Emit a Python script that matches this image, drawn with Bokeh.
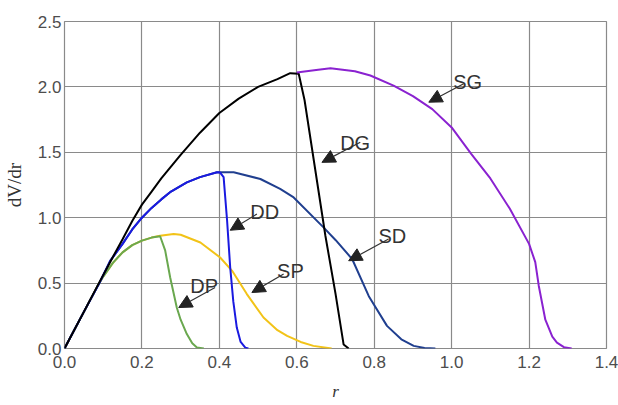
from bokeh.plotting import figure
from bokeh.models import Range1d, Label, Arrow, NormalHead, FixedTicker, PrintfTickFormatter
from bokeh.embed import file_html
from bokeh.resources import INLINE

# ---------------- data ----------------
x_ticks = [0.0, 0.2, 0.4, 0.6, 0.8, 1.0, 1.2, 1.4]
y_ticks = [0.0, 0.5, 1.0, 1.5, 2.0, 2.5]

dg_x = [0.0, 0.05, 0.092, 0.125, 0.15, 0.175, 0.20, 0.225, 0.25, 0.275, 0.30, 0.35, 0.40, 0.45, 0.50, 0.55, 0.583, 0.605, 0.62, 0.674, 0.70, 0.721, 0.734]
dg_y = [0.0, 0.28, 0.517, 0.70, 0.835, 0.975, 1.10, 1.20, 1.30, 1.39, 1.48, 1.65, 1.80, 1.91, 2.00, 2.06, 2.105, 2.10, 1.90, 0.86, 0.42, 0.03, 0.0]

sg_x = [0.60, 0.65, 0.687, 0.75, 0.79, 0.85, 0.90, 0.95, 1.00, 1.05, 1.10, 1.15, 1.20, 1.216, 1.225, 1.242, 1.26, 1.272, 1.29, 1.31]
sg_y = [2.11, 2.13, 2.143, 2.12, 2.087, 2.01, 1.93, 1.83, 1.69, 1.49, 1.30, 1.07, 0.80, 0.66, 0.48, 0.22, 0.09, 0.045, 0.01, 0.0]

sd_x = [0.0, 0.05, 0.09, 0.118, 0.15, 0.175, 0.20, 0.225, 0.25, 0.275, 0.316, 0.35, 0.394, 0.437, 0.506, 0.557, 0.592, 0.669, 0.70, 0.743, 0.786, 0.833, 0.87, 0.902, 0.93, 0.958]
sd_y = [0.0, 0.28, 0.50, 0.67, 0.80, 0.91, 1.00, 1.075, 1.14, 1.20, 1.27, 1.31, 1.347, 1.347, 1.296, 1.22, 1.155, 0.926, 0.83, 0.684, 0.40, 0.173, 0.07, 0.02, 0.004, 0.0]

dd_x = [0.0, 0.05, 0.09, 0.118, 0.15, 0.175, 0.20, 0.225, 0.25, 0.275, 0.316, 0.35, 0.394, 0.402, 0.411, 0.42, 0.428, 0.436, 0.445, 0.455, 0.467, 0.475]
dd_y = [0.0, 0.28, 0.50, 0.67, 0.80, 0.91, 1.00, 1.075, 1.14, 1.20, 1.27, 1.31, 1.347, 1.345, 1.31, 0.977, 0.62, 0.36, 0.16, 0.05, 0.007, 0.0]

dp_x = [0.0, 0.05, 0.085, 0.10, 0.125, 0.15, 0.175, 0.20, 0.225, 0.247, 0.26, 0.273, 0.29, 0.30, 0.316, 0.33, 0.342, 0.36]
dp_y = [0.0, 0.28, 0.475, 0.55, 0.655, 0.735, 0.79, 0.825, 0.848, 0.858, 0.75, 0.543, 0.313, 0.22, 0.11, 0.04, 0.007, 0.0]

sp_x = [0.0, 0.05, 0.085, 0.10, 0.125, 0.15, 0.175, 0.20, 0.225, 0.247, 0.282, 0.30, 0.351, 0.402, 0.433, 0.471, 0.514, 0.55, 0.575, 0.61, 0.643, 0.69]
sp_y = [0.0, 0.28, 0.475, 0.55, 0.655, 0.735, 0.79, 0.825, 0.848, 0.862, 0.875, 0.87, 0.81, 0.696, 0.594, 0.416, 0.237, 0.14, 0.096, 0.05, 0.02, 0.0]

# curve annotations: label text, label anchor (data), arrow tail, arrow head
notes = [
    ("SG", 1.004, 2.034, 1.031, 2.024, 0.941, 1.883),
    ("DG", 0.712, 1.574, 0.764, 1.577, 0.665, 1.423),
    ("DD", 0.480, 1.041, 0.497, 1.028, 0.428, 0.904),
    ("SD", 0.811, 0.862, 0.837, 0.837, 0.734, 0.671),
    ("SP", 0.549, 0.594, 0.566, 0.569, 0.484, 0.428),
    ("DP", 0.325, 0.479, 0.389, 0.466, 0.295, 0.313),
]

# ---------------- figure ----------------
p = figure(width=618, height=405, output_backend="svg", toolbar_location=None,
           x_range=Range1d(0, 1.4), y_range=Range1d(0, 2.5),
           min_border_left=64, min_border_right=12, min_border_top=21, min_border_bottom=57)
p.background_fill_color = "white"
p.border_fill_color = "white"
p.outline_line_color = "#8a8a8a"
p.outline_line_width = 1.2

for ax in (p.xaxis, p.yaxis):
    ax.axis_line_color = None
    ax.major_tick_line_color = None
    ax.minor_tick_line_color = None
    ax.major_tick_out = 0
    ax.major_tick_in = 0
    ax.minor_tick_out = 0
    ax.minor_tick_in = 0
    ax.major_label_text_font = "Liberation Sans"
    ax.major_label_text_font_size = "17px"
    ax.major_label_text_color = "#4d4d4d"
    ax.formatter = PrintfTickFormatter(format="%.1f")
    ax.axis_label_text_font = "Liberation Serif"
    ax.axis_label_text_color = "#333333"
p.xaxis.ticker = FixedTicker(ticks=x_ticks)
p.yaxis.ticker = FixedTicker(ticks=y_ticks)
p.xaxis.major_label_standoff = 7
p.yaxis.major_label_standoff = 3
p.xaxis.axis_label = "r"
p.xaxis.axis_label_text_font_size = "17px"
p.xaxis.axis_label_text_font_style = "italic"
p.xaxis.axis_label_standoff = 11
p.yaxis.axis_label = "dV/dr"
p.yaxis.axis_label_text_font_size = "19px"
p.yaxis.axis_label_text_font_style = "normal"
p.yaxis.axis_label_standoff = 10

p.xgrid.ticker = FixedTicker(ticks=x_ticks)
p.ygrid.ticker = FixedTicker(ticks=y_ticks)
for g in (p.xgrid, p.ygrid):
    g.grid_line_color = "#8a8a8a"
    g.grid_line_width = 1.2

p.line(sp_x, sp_y, line_color="#f2c318", line_width=2)
p.line(dp_x, dp_y, line_color="#6aa84f", line_width=2)
p.line(sd_x, sd_y, line_color="#203f8f", line_width=2)
p.line(dd_x, dd_y, line_color="#1a1ae0", line_width=2)
p.line(dg_x, dg_y, line_color="#000000", line_width=2)
p.line(sg_x, sg_y, line_color="#8a22d0", line_width=2)

for txt, lx, ly, ax0, ay0, ax1, ay1 in notes:
    p.add_layout(Label(x=lx, y=ly, text=txt, text_font="Liberation Sans", text_font_size="20px",
                       text_color="#333333", text_baseline="alphabetic", text_align="left"))
    p.add_layout(Arrow(x_start=ax0, y_start=ay0, x_end=ax1, y_end=ay1,
                       line_color="#333333", line_width=1.2,
                       end=NormalHead(size=13, fill_color="#222222", line_color="#222222")))

open("out.html", "w").write(file_html(p, INLINE))
